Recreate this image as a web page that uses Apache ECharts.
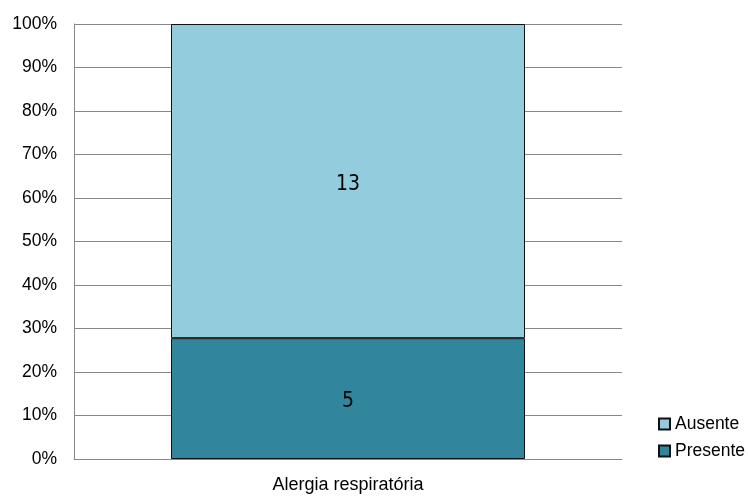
<!DOCTYPE html>
<html><head><meta charset="utf-8">
<script src="https://cdn.jsdelivr.net/npm/echarts@6/dist/echarts.min.js"></script>
<style>html,body{margin:0;padding:0;background:#fff}#c{width:748px;height:496px}</style>
</head><body><div id="c"></div>
<script>
const categories = ['Alergia respiratória'];
const presente = [5];
const ausente = [13];
const seriesNames = ['Presente', 'Ausente'];

const totals = categories.map((_, i) => presente[i] + ausente[i]);
const pct = (arr) => arr.map((v, i) => ({ value: v / totals[i] * 100, raw: v }));

const chart = echarts.init(document.getElementById('c'));
const lbl = {
  show: true, position: 'inside', color: '#000', offset: [0, 3],
  fontFamily: 'DejaVu Sans Condensed, DejaVu Sans', fontSize: 21,
  formatter: p => p.data.raw
};
chart.setOption({
  animation: false,
  grid: { left: 74, right: 126, top: 24, bottom: 37, containLabel: false },
  legend: {
    orient: 'vertical', left: 653, top: 410,
    data: ['Ausente', 'Presente'],
    itemWidth: 11, itemHeight: 11, itemGap: 9,
    icon: 'rect',
    textStyle: { fontFamily: 'Liberation Sans', fontSize: 17.5, color: '#000' }
  },
  xAxis: {
    type: 'category', data: categories,
    axisLine: { lineStyle: { color: '#888', width: 1 } },
    axisTick: { show: false },
    axisLabel: { fontFamily: 'Liberation Sans', fontSize: 18, color: '#000', margin: 17 }
  },
  yAxis: {
    type: 'value', min: 0, max: 100, interval: 10,
    axisLine: { show: true, lineStyle: { color: '#888', width: 1 } },
    axisTick: { show: false },
    splitLine: { lineStyle: { color: '#888', width: 1 } },
    axisLabel: { formatter: '{value}%', fontFamily: 'Liberation Sans', fontSize: 17.5, color: '#000', margin: 17 }
  },
  series: [
    { name: 'Presente', type: 'bar', stack: 't', barWidth: 354, data: pct(presente),
      itemStyle: { color: '#31859C', borderColor: '#111', borderWidth: 1 }, label: lbl },
    { name: 'Ausente', type: 'bar', stack: 't', barWidth: 354, data: pct(ausente),
      itemStyle: { color: '#93CDDD', borderColor: '#111', borderWidth: 1 }, label: lbl }
  ]
});
</script></body></html>
